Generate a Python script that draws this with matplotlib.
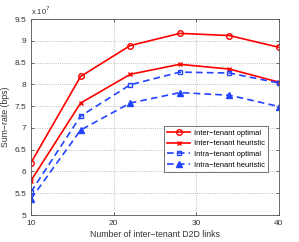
import matplotlib
matplotlib.use("Agg")
import matplotlib.pyplot as plt
from matplotlib.ticker import FixedLocator

x = [10, 16, 22, 28, 34, 40]
inter_opt = [6.20, 8.18, 8.89, 9.17, 9.12, 8.85]
inter_heu = [5.79, 7.57, 8.23, 8.46, 8.35, 8.05]
intra_opt = [5.53, 7.27, 7.99, 8.28, 8.26, 8.03]
intra_heu = [5.37, 6.95, 7.57, 7.81, 7.75, 7.49]
labels = ["Inter\u2212tenant optimal", "Inter\u2212tenant heuristic",
          "Intra\u2212tenant optimal", "Intra\u2212tenant heuristic"]
yticks = [5, 5.5, 6, 6.5, 7, 7.5, 8, 8.5, 9, 9.5]
xticks = [10, 20, 30, 40]

plt.rcParams['font.family'] = ['Liberation Sans', 'DejaVu Sans']
fig = plt.figure(figsize=(2.99, 2.42), dpi=100)
ax = fig.add_axes([31/299, 1 - 215/242, (279-31)/299, (215-19)/242])

red = '#ff0000'
blue = '#2244ff'
ax.plot(x, inter_opt, '-', color=red, lw=1.2, marker='o', ms=4, mfc='none', mew=1.0, label=labels[0])
ax.plot(x, inter_heu, '-', color=red, lw=1.2, marker='x', ms=3, mew=1.0, label=labels[1])
ax.plot(x, intra_opt, '--', color=blue, lw=1.2, marker='s', ms=3.5, mfc='none', mew=1.0, label=labels[2],
        dashes=(4, 2.5))
ax.plot(x, intra_heu, '--', color=blue, lw=1.2, marker='^', ms=4, label=labels[3], dashes=(4, 2.5))

ax.set_xlim(10, 40)
ax.set_ylim(5, 9.5)
ax.xaxis.set_major_locator(FixedLocator(xticks))
ax.yaxis.set_major_locator(FixedLocator(yticks))
ax.set_yticklabels([('%g' % v) for v in yticks])
ax.tick_params(direction='in', labelsize=6, length=2.5, top=True, right=True, width=0.5, colors='#333333')
ax.grid(True, linestyle=':', color='#aaaaaa', lw=0.6)
for s in ax.spines.values():
    s.set_linewidth(0.6)
    s.set_color('#555555')
ax.text(0.0, 1.01, r'x 10$^7$', transform=ax.transAxes, fontsize=5.5, ha='left', va='bottom', color='#333333')
ax.set_xlabel('Number of inter\u2212tenant D2D links', fontsize=6.3, color='#333333', labelpad=2)
ax.set_ylabel('Sum\u2212rate (bps)', fontsize=6.3, color='#333333', labelpad=3)
leg = ax.legend(loc='lower right', bbox_to_anchor=(0.97, 0.2), fontsize=5.4, handlelength=3,
                fancybox=False, edgecolor='#333333', borderpad=0.45, labelspacing=0.45, handletextpad=0.5)
leg.get_frame().set_linewidth(0.6)
fig.savefig('out.png', dpi=100)
